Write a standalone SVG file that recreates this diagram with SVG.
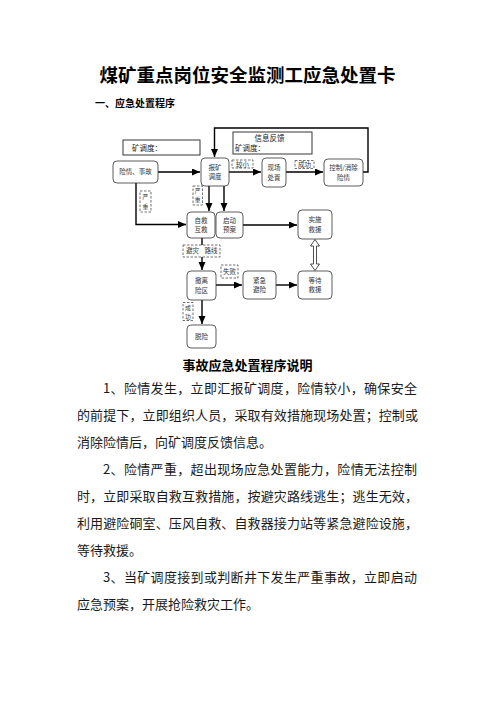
<svg xmlns="http://www.w3.org/2000/svg" width="496" height="702" viewBox="0 0 496 702">
<defs>
<marker id="ah" markerUnits="userSpaceOnUse" markerWidth="9" markerHeight="8" refX="8" refY="3.5" orient="auto">
<path d="M0,0 L8,3.5 L0,7 z" fill="#000"/>
</marker>
<style>
text{font-family:"Noto Sans CJK SC","Noto Sans",sans-serif;fill:#1a1a1a}
.title{font-size:18.5px;font-weight:700;fill:#000}
.h1{font-size:10px;font-weight:700;fill:#000}
.h2{font-size:13px;font-weight:700;fill:#000}
.body{font-size:13px}
.node rect{fill:#fff;stroke:#333;stroke-width:0.8}
.node text{font-size:6.5px;text-anchor:middle;fill:#333}
.lbl rect{fill:#fff;stroke:#333;stroke-width:0.7;stroke-dasharray:2.5,1.5}
.lbl text{font-size:6.5px;text-anchor:middle;fill:#333}
.lbl text.v{font-size:5.8px}
.info rect{fill:#fff;stroke:#222;stroke-width:0.9}
.info text{font-size:7.5px;fill:#222}
#connectors path{fill:none;stroke:#000;stroke-width:1.4}
</style>
</defs>
<rect width="496" height="702" fill="#fff"/>

<text class="title" x="247.5" y="81.7" text-anchor="middle">煤矿重点岗位安全监测工应急处置卡</text>
<text class="h1" x="95" y="106.6">一、应急处置程序</text>

<g id="info-left" class="info">
<rect x="123" y="140" width="77" height="15"/>
<text x="132" y="150.5">矿调度：</text>
</g>
<g id="info-feedback" class="info">
<rect x="233" y="132" width="79" height="22"/>
<text x="269.5" y="141" text-anchor="middle">信息反馈</text>
<text x="235" y="151">矿调度：</text>
</g>

<g id="connectors">
<path d="M158,172 H200" marker-end="url(#ah)"/>
<path d="M229,172 H261" marker-end="url(#ah)"/>
<path d="M286,172 H323" marker-end="url(#ah)"/>
<path d="M363,172 H368 V128 H214.5 V157" marker-end="url(#ah)"/>
<path d="M209,186 V211" marker-end="url(#ah)"/>
<path d="M224,186 V211" marker-end="url(#ah)"/>
<path d="M136,183 V224.5 H186" marker-end="url(#ah)"/>
<path d="M243,225 H297" marker-end="url(#ah)"/>
<path d="M202,238 V270" marker-end="url(#ah)"/>
<path d="M216,285 H242" marker-end="url(#ah)"/>
<path d="M276,285 H297" marker-end="url(#ah)"/>
<path d="M202,300 V324" marker-end="url(#ah)"/>
<polygon points="315,239.5 319.5,246 316.5,246 316.5,264 319.5,264 315,270.5 310.5,264 313.5,264 313.5,246 310.5,246" fill="#fff" stroke="#222" stroke-width="0.8"/>
</g>

<g id="n-danger" class="node"><rect x="113" y="161" width="45" height="22" rx="4"/><text x="135.5" y="174.3">险情、事故</text></g>
<g id="n-report" class="node"><rect x="201" y="158" width="28" height="28" rx="4"/><text x="215" y="169.5">报矿</text><text x="215" y="179">调度</text></g>
<g id="n-onsite" class="node"><rect x="262" y="158" width="24" height="29" rx="4"/><text x="274" y="170">现场</text><text x="274" y="179.5">处置</text></g>
<g id="n-control" class="node"><rect x="324" y="159" width="39" height="27" rx="4"/><text x="343.5" y="170">控制/消除</text><text x="343.5" y="179.5">险情</text></g>
<g id="n-selfrescue" class="node"><rect x="187" y="212" width="28" height="26" rx="4"/><text x="201" y="222.5">自救</text><text x="201" y="232">互救</text></g>
<g id="n-plan" class="node"><rect x="216" y="212" width="27" height="26" rx="4"/><text x="229.5" y="222.5">启动</text><text x="229.5" y="232">预案</text></g>
<g id="n-rescue" class="node"><rect x="298" y="210" width="34" height="29" rx="4"/><text x="315" y="222">实施</text><text x="315" y="231.5">救援</text></g>
<g id="n-evacuate" class="node"><rect x="187" y="271" width="29" height="29" rx="4"/><text x="201.5" y="283">撤离</text><text x="201.5" y="292.5">险区</text></g>
<g id="n-refuge" class="node"><rect x="243" y="271" width="33" height="28" rx="4"/><text x="259.5" y="282.5">紧急</text><text x="259.5" y="292">避险</text></g>
<g id="n-wait" class="node"><rect x="298" y="271" width="34" height="28" rx="4"/><text x="315" y="282.5">等待</text><text x="315" y="292">救援</text></g>
<g id="n-escape" class="node"><rect x="187" y="325" width="29" height="23" rx="4"/><text x="201.5" y="338.8">脱险</text></g>

<g id="l-small" class="lbl"><rect x="232" y="160" width="21" height="8"/><text x="242.5" y="166.6">较小</text></g>
<g id="l-success1" class="lbl"><rect x="295" y="160.5" width="19" height="8"/><text x="304.5" y="167">成功</text></g>
<g id="l-serious1" class="lbl"><rect x="140" y="191" width="11" height="21"/><text class="v" x="145.5" y="199">严</text><text class="v" x="145.5" y="208.5">重</text></g>
<g id="l-serious2" class="lbl"><rect x="193" y="186" width="9.5" height="19"/><text class="v" x="197.7" y="193">严</text><text class="v" x="197.7" y="202">重</text></g>
<g id="l-route" class="lbl"><rect x="183" y="245" width="37" height="12"/><text x="192.5" y="253.3">避灾</text><text x="211" y="253.3">路线</text></g>
<g id="l-fail" class="lbl"><rect x="221" y="265" width="17" height="13"/><text x="229.5" y="273.8">失败</text></g>
<g id="l-success2" class="lbl"><rect x="183" y="302.5" width="10" height="18"/><text class="v" x="188" y="309.5">成</text><text class="v" x="188" y="318.5">功</text></g>

<text class="h2" x="247.5" y="369.7" text-anchor="middle">事故应急处置程序说明</text>
<g class="body">
<text class="body" x="103" y="392.5" textLength="314" lengthAdjust="spacing">1、险情发生，立即汇报矿调度，险情较小，确保安全</text>
<text class="body" x="77" y="419.5" textLength="341" lengthAdjust="spacing">的前提下，立即组织人员，采取有效措施现场处置；控制或</text>
<text class="body" x="77" y="446.5">消除险情后，向矿调度反馈信息。</text>
<text class="body" x="103" y="474" textLength="314" lengthAdjust="spacing">2、险情严重，超出现场应急处置能力，险情无法控制</text>
<text class="body" x="77" y="501" textLength="341" lengthAdjust="spacing">时，立即采取自救互救措施，按避灾路线逃生；逃生无效，</text>
<text class="body" x="77" y="528" textLength="341" lengthAdjust="spacing">利用避险硐室、压风自救、自救器接力站等紧急避险设施，</text>
<text class="body" x="77" y="554.5">等待救援。</text>
<text class="body" x="103" y="581.5" textLength="314" lengthAdjust="spacing">3、当矿调度接到或判断井下发生严重事故，立即启动</text>
<text class="body" x="77" y="608.5">应急预案，开展抢险救灾工作。</text>
</g>
</svg>
